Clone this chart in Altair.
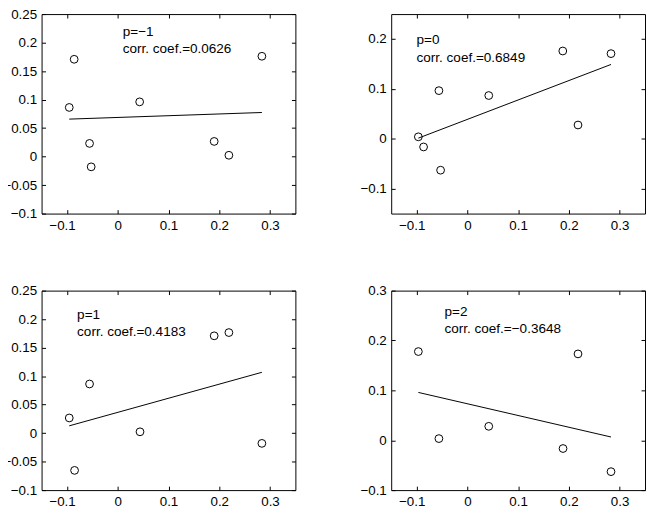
import altair as alt
import pandas as pd

# ---- data ----
x_p1 = [-0.0955, -0.0858, -0.0555, -0.0523, 0.0432, 0.190, 0.219, 0.284]
y_p1 = [0.0862, 0.1707, 0.0231, -0.018, 0.096, 0.0266, 0.0023, 0.176]

x_p2 = [-0.0965, -0.0862, -0.0560, -0.0527, 0.0422, 0.188, 0.218, 0.283]
y_p2 = [0.0039, -0.0164, 0.0965, -0.063, 0.0867, 0.176, 0.0276, 0.1707]

x_p3 = [-0.0955, -0.085, -0.0555, 0.0439, 0.190, 0.219, 0.284]
y_p3 = [0.0266, -0.0654, 0.0862, 0.0023, 0.1707, 0.1764, -0.018]

x_p4 = [-0.0965, -0.0560, 0.0422, 0.1885, 0.218, 0.283]
y_p4 = [0.1778, 0.0033, 0.0279, -0.0166, 0.1731, -0.063]

labels_p = ["p=\u22121", "p=0", "p=1", "p=2"]
labels_r = ["corr. coef.=0.0626", "corr. coef.=0.6849",
            "corr. coef.=0.4183", "corr. coef.=\u22120.3648"]
ann_x = [0.01, -0.1, -0.08, -0.045]
ann_y = [0.219, 0.197, 0.208, 0.257]

x_domain = [-0.15, 0.35]
x_ticks = [-0.1, 0, 0.1, 0.2, 0.3]
y_domains = [[-0.1, 0.25], [-0.15, 0.25], [-0.1, 0.25], [-0.1, 0.3]]
y_ticks = [
    [-0.1, -0.05, 0, 0.05, 0.1, 0.15, 0.2, 0.25],
    [-0.1, 0, 0.1, 0.2],
    [-0.1, -0.05, 0, 0.05, 0.1, 0.15, 0.2, 0.25],
    [-0.1, 0, 0.1, 0.2, 0.3],
]

xs = [x_p1, x_p2, x_p3, x_p4]
ys = [y_p1, y_p2, y_p3, y_p4]

FONT = "Liberation Sans"
W, H = 257, 202


def axis(orient, values, labels=True):
    kw = dict(orient=orient, values=values, format="~g", offset=-4, tickSize=4,
              tickColor="black", tickWidth=1, domain=False, grid=False,
              title=None, labels=labels, labelFont=FONT, labelFontSize=13.5,
              labelColor="black", labelPadding=5)
    if orient == "bottom":
        kw["labelOffset"] = {"condition": {"test": "datum.value < 0", "value": -5},
                             "value": 0}
    return alt.Axis(**kw)


def panel(i):
    df = pd.DataFrame({"x": xs[i], "y": ys[i]})
    xsc = alt.Scale(domain=x_domain, nice=False, zero=False)
    ysc = alt.Scale(domain=y_domains[i], nice=False, zero=False)
    base = alt.Chart(df)
    pts = base.mark_point(shape="circle", size=62, filled=False, color="black",
                          strokeWidth=1, opacity=1).encode(
        x=alt.X("x:Q", scale=xsc, axis=axis("bottom", x_ticks)),
        y=alt.Y("y:Q", scale=ysc, axis=axis("left", y_ticks[i])),
    )
    line = base.transform_regression("x", "y").mark_line(
        color="black", strokeWidth=1).encode(
        x=alt.X("x:Q", scale=xsc, axis=axis("top", x_ticks, labels=False)),
        y=alt.Y("y:Q", scale=ysc, axis=axis("right", y_ticks[i], labels=False)),
    )
    tdf = pd.DataFrame({"x": [ann_x[i]], "y": [ann_y[i]],
                        "t": [[labels_p[i], labels_r[i]]]})
    txt = alt.Chart(tdf).mark_text(align="left", baseline="middle", font=FONT,
                                   fontSize=13.7, lineHeight=17.5, color="black").encode(
        x=alt.X("x:Q", scale=xsc, axis=None),
        y=alt.Y("y:Q", scale=ysc, axis=None),
        text="t",
    )
    return alt.layer(pts, line, txt).resolve_axis(
        x="independent", y="independent").properties(width=W, height=H)


row1 = alt.hconcat(panel(0), panel(1), spacing=63)
row2 = alt.hconcat(panel(2), panel(3), spacing=63)
chart = alt.vconcat(row1, row2, spacing=51).properties(
    padding={"left": -6, "top": -5, "right": 0, "bottom": 0},
    background="white",
).configure_view(stroke="black", strokeWidth=1)

chart.save("out.html", embed_options={"renderer": "svg", "actions": False})
